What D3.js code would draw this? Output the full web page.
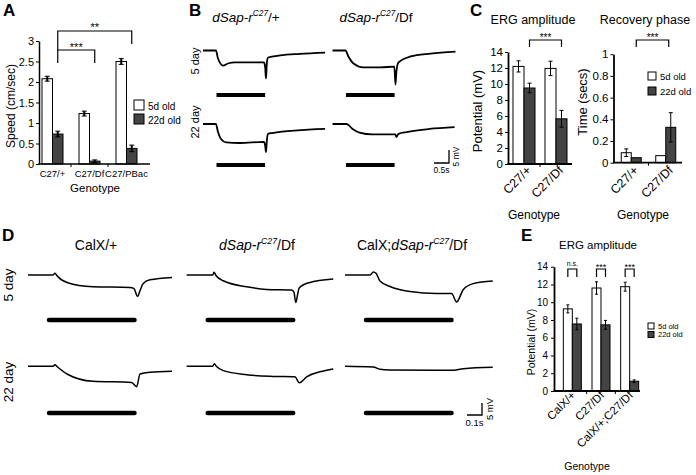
<!DOCTYPE html>
<html><head><meta charset="utf-8">
<script src="https://cdn.jsdelivr.net/npm/d3@7"></script>
<style>
body{margin:0;background:#fff}
svg{display:block}
text{font-family:"Liberation Sans",Arial,Helvetica,sans-serif;fill:#000}
</style>
</head><body>
<svg id="c" width="696" height="475"></svg>
<script>
// ---------------- DATA ----------------
const ageLegend = ["5d old", "22d old"];

// Panel A: climbing speed
const speedGenotypes = ["C27/+", "C27/Df", "C27/PBac"];
const speed5d = [2.08, 1.23, 2.50];
const speed5dErr = [0.06, 0.06, 0.07];
const speed22d = [0.73, 0.07, 0.38];
const speed22dErr = [0.07, 0.03, 0.08];
const speedTicks = [0, 0.5, 1, 1.5, 2, 2.5, 3];

// Panel C: ERG amplitude and recovery
const ergGenotypesC = ["C27/+", "C27/Df"];
const ergC5d = [12.2, 11.95];
const ergC5dErr = [0.7, 0.9];
const ergC22d = [9.5, 5.65];
const ergC22dErr = [0.6, 1.05];
const ergTicks = [0, 2, 4, 6, 8, 10, 12, 14];
const recGenotypes = ["C27/+", "C27/Df"];
const rec5d = [0.092, 0.065];
const rec5dErr = [0.035, 0];
const rec22d = [0.046, 0.326];
const rec22dErr = [0, 0.135];
const recTicks = [0, 0.2, 0.4, 0.6, 0.8, 1];

// Panel E: ERG amplitude with CalX
const ergGenotypesE = ["CalX/+", "C27/Df", "CalX/+;C27/Df"];
const ergE5d = [9.25, 11.6, 11.75];
const ergE5dErr = [0.45, 0.7, 0.5];
const ergE22d = [7.55, 7.45, 1.1];
const ergE22dErr = [0.65, 0.5, 0.15];
const ergSigE = ["n.s.", "***", "***"];

// Panel B: ERG traces [time s, mV]
const traceB_plus_5d = [[0,0],[0.43,0],[0.5,-3.1],[0.67,-5.8],[0.83,-5.0],[1.07,-4.6],[2.03,-4.6],[2.07,-6.2],[2.1,-10.8],[2.13,-4.6],[2.17,-2.7],[2.57,-1.9],[3.23,-1.3],[4.07,-0.8]];
const traceB_df_5d = [[0,0],[0.43,0],[0.53,-2.3],[0.7,-5.0],[1.03,-6.5],[1.6,-6.5],[2.06,-6.2],[2.1,-13.1],[2.13,-8.1],[2.2,-4.6],[2.6,-2.3],[3.27,-1.2],[4.1,-0.4]];
const traceB_plus_22d = [[0,0],[0.43,0],[0.5,-3.1],[0.6,-5.8],[0.77,-7.1],[1.23,-7.3],[2.03,-6.9],[2.07,-8.1],[2.1,-10.8],[2.13,-6.2],[2.17,-3.8],[2.3,-3.5],[4.07,-1.9]];
const traceB_df_22d = [[0,0],[0.47,0],[0.67,-1.9],[0.9,-3.3],[1.33,-4.0],[2.1,-4.0],[2.13,-5.0],[2.2,-3.8],[2.47,-3.1],[3.23,-1.9],[4.07,-1.2]];
const stimB = [0.45, 2.07];
const scaleB = [0.5, 5];   // 0.5 s, 5 mV

// Panel D: ERG traces [time s, mV]
const traceD_calx_5d = [[0,0],[0.167,0],[0.18,0.7],[0.193,-0.3],[0.26,-3.1],[0.433,-4.9],[0.68,-5.2],[0.707,-5.7],[0.73,-8.9],[0.747,-6.5],[0.767,-3.6],[0.813,-2.0],[0.96,-1.0]];
const traceD_calx_22d = [[0,0],[0.167,0],[0.18,0.6],[0.193,-0.1],[0.26,-3.2],[0.433,-6.25],[0.691,-6.7],[0.724,-8.5],[0.747,-3.2],[0.813,-2.5],[0.96,-2.1]];
const traceD_df_5d = [[0,0],[0.173,0],[0.182,1.1],[0.195,-0.2],[0.244,-2.4],[0.4,-4.9],[0.533,-6.0],[0.7,-6.25],[0.715,-7.1],[0.727,-11.5],[0.74,-7.9],[0.749,-5.5],[0.816,-3.2],[0.977,-1.7]];
const traceD_df_22d = [[0,0],[0.173,0],[0.184,1.1],[0.199,-0.1],[0.244,-1.8],[0.4,-3.5],[0.577,-4.2],[0.722,-4.4],[0.751,-6.9],[0.8,-4.4],[0.889,-2.3],[0.977,-1.1]];
const traceD_double_5d = [[0,0],[0.167,0],[0.189,1.25],[0.207,0.7],[0.233,-2.5],[0.3,-4.8],[0.433,-6.9],[0.611,-7.75],[0.711,-7.75],[0.744,-11.25],[0.789,-6.0],[0.855,-3.6],[0.985,-2.5]];
const traceD_double_22d = [[0,0],[0.189,-0.3],[0.233,-1.25],[0.3,-1.5],[0.611,-1.67],[0.711,-1.67],[0.789,-1.0],[0.985,-0.4]];
const stimD = [0.14, 0.71];
const scaleD = [0.1, 5];   // 0.1 s, 5 mV

const rowLabels = ["5 day", "22 day"];

// ---------------- DRAWING ----------------
const svg = d3.select("#c");
const DARK = "#444";

function txt(x, y, s, o = {}) {
  const t = svg.append("text").attr("x", x).attr("y", y).text(s)
    .attr("font-size", o.size || 11)
    .attr("text-anchor", o.anchor || "start")
    .attr("font-weight", o.weight || "normal");
  if (o.rotate != null) t.attr("transform", `rotate(${o.rotate},${x},${y})`);
  return t;
}

function richTitle(x, y, parts, size) {
  const t = svg.append("text").attr("x", x).attr("y", y)
    .attr("text-anchor", "middle").attr("font-size", size);
  let prevSup = false;
  parts.forEach(p => {
    const ts = t.append("tspan").text(p.t);
    if (p.i) ts.attr("font-style", "italic");
    if (p.sup) { ts.attr("font-size", size * 0.62).attr("dy", -size * 0.42); prevSup = true; }
    else if (prevSup) { ts.attr("dy", size * 0.42); prevSup = false; }
  });
}

function barChart(cfg) {
  const g = svg.append("g");
  const x = d3.scaleBand().domain(cfg.cats).range(cfg.xRange);
  const y = d3.scaleLinear().domain(cfg.yDomain).range(cfg.yRange);
  const bw = cfg.barW;
  const centers = cfg.cats.map(c => x(c) + x.bandwidth() / 2);
  cfg.cats.forEach((c, i) => {
    const cx = centers[i];
    [[cfg.v5, cfg.e5, "#fff", -1], [cfg.v22, cfg.e22, DARK, 0]].forEach(([v, e, fill, off]) => {
      const bx = cx + off * bw;
      g.append("rect").attr("x", bx).attr("y", y(v[i])).attr("width", bw)
        .attr("height", y(0) - y(v[i])).attr("fill", fill)
        .attr("stroke", "#000").attr("stroke-width", cfg.barStroke || 1);
      if (e[i] > 0) {
        const ex = bx + bw / 2;
        g.append("line").attr("x1", ex).attr("x2", ex)
          .attr("y1", y(v[i] - e[i])).attr("y2", y(v[i] + e[i]))
          .attr("stroke", "#000").attr("stroke-width", cfg.errW || 1);
        [v[i] - e[i], v[i] + e[i]].forEach(val => {
          g.append("line").attr("x1", ex - cfg.cap).attr("x2", ex + cfg.cap)
            .attr("y1", y(val)).attr("y2", y(val))
            .attr("stroke", "#000").attr("stroke-width", 1);
        });
      }
    });
  });
  // y axis
  const ya = g.append("g").attr("transform", `translate(${cfg.axisX},0)`)
    .call(d3.axisLeft(y).tickValues(cfg.ticks).tickSize(3).tickSizeOuter(0).tickPadding(cfg.tickPad || 2)
      .tickFormat(d => String(+d.toFixed(2))));
  ya.select(".domain").attr("stroke-width", cfg.axisW || 1.5);
  ya.selectAll(".tick line").attr("stroke-width", 1);
  ya.selectAll("text").attr("font-size", cfg.tickSize).attr("font-family", null);
  // x axis
  g.append("line").attr("x1", cfg.axisX - 0.5).attr("x2", cfg.axisEnd)
    .attr("y1", y(0)).attr("y2", y(0)).attr("stroke", "#000").attr("stroke-width", cfg.axisW || 1.5);
  cfg.cats.slice(1).forEach(c => {
    g.append("line").attr("x1", x(c)).attr("x2", x(c)).attr("y1", y(0)).attr("y2", y(0) + 3)
      .attr("stroke", "#000").attr("stroke-width", 1);
  });
  return { x, y, centers, g };
}

function bracket(x1, x2, yTop, yL, yR) {
  svg.append("path").attr("d", `M${x1},${yL}V${yTop}H${x2}V${yR}`)
    .attr("fill", "none").attr("stroke", "#000").attr("stroke-width", 1.2);
}

function legend(x, y, size, gap, fsize) {
  [["#fff", ageLegend[0]], [DARK, ageLegend[1]]].forEach(([f, l], i) => {
    svg.append("rect").attr("x", x).attr("y", y + i * gap).attr("width", size).attr("height", size)
      .attr("fill", f).attr("stroke", "#000").attr("stroke-width", 1);
    txt(x + size + 4, y + i * gap + size - 0.5, l, { size: fsize });
  });
}

function trace(data, x0, y0, pxS, pxMV, w) {
  const xs = d3.scaleLinear().domain([0, 1]).range([x0, x0 + pxS]);
  const ys = d3.scaleLinear().domain([0, 1]).range([y0, y0 - pxMV]);
  svg.append("path").datum(data)
    .attr("d", d3.line().x(d => xs(d[0])).y(d => ys(d[1])).curve(d3.curveMonotoneX))
    .attr("fill", "none").attr("stroke", "#000").attr("stroke-width", w);
  return { xs, ys };
}

function stim(xs, yb, range, w, cap) {
  svg.append("line").attr("x1", xs(range[0])).attr("x2", xs(range[1]))
    .attr("y1", yb).attr("y2", yb).attr("stroke", "#000").attr("stroke-width", w)
    .attr("stroke-linecap", cap);
}

function scaleBar(xs, ys, xEnd, yBase, sc, fs, labS, labMV) {
  const xw = xs(sc[0]) - xs(0), yh = ys(0) - ys(sc[1]);
  svg.append("path").attr("d", `M${xEnd - xw},${yBase}H${xEnd}V${yBase - yh}`)
    .attr("fill", "none").attr("stroke", "#000").attr("stroke-width", 1.3);
  txt(xEnd - xw / 2, yBase + fs + 1, labS, { size: fs, anchor: "middle" });
  txt(xEnd + fs + 1, yBase - yh / 2, labMV, { size: fs, anchor: "middle", rotate: -90 });
}

// ---- Panel letters
txt(3, 16, "A", { size: 17, weight: "bold" });
txt(189, 16, "B", { size: 17, weight: "bold" });
txt(470, 16, "C", { size: 17, weight: "bold" });
txt(2, 241, "D", { size: 17, weight: "bold" });
txt(521, 241, "E", { size: 17, weight: "bold" });

// ---- Panel A
const A = barChart({
  cats: speedGenotypes, v5: speed5d, e5: speed5dErr, v22: speed22d, e22: speed22dErr,
  xRange: [34, 145], axisX: 39, axisEnd: 150, yDomain: [0, 3], yRange: [164, 41],
  barW: 10.5, ticks: speedTicks, tickSize: 11, cap: 2.5, errW: 2, axisW: 1.5, tickPad: 2
});
A.centers.forEach((cx, i) => txt(cx, 177, speedGenotypes[i], { size: 9.5, anchor: "middle" }));
txt(95, 192, "Genotype", { size: 11.5, anchor: "middle" });
txt(15, 106, "Speed (cm/sec)", { size: 12, anchor: "middle", rotate: -90 });
{
  const d = A.centers.map(c => c + 10.5 / 2);
  bracket(d[0], d[1], 50, 63, 63);
  bracket(d[0], d[2], 31, 50, 44);
  txt((d[0] + d[1]) / 2, 51, "***", { size: 11, anchor: "middle" });
  txt((d[0] + d[2]) / 2, 30.5, "**", { size: 11, anchor: "middle" });
}
legend(134, 100, 10, 14, 10);

// ---- Panel B
const titleB1 = [{ t: "dSap-r", i: 1 }, { t: "C27", sup: 1, i: 1 }, { t: "/+" }];
const titleB2 = [{ t: "dSap-r", i: 1 }, { t: "C27", sup: 1, i: 1 }, { t: "/Df" }];
richTitle(246, 22, titleB1, 13.5);
richTitle(376, 22, titleB2, 13.5);
txt(199, 61, rowLabels[0], { size: 11, anchor: "middle", rotate: -90 });
txt(199, 122, rowLabels[1], { size: 11, anchor: "middle", rotate: -90 });
const bCols = [203, 332.5], bRows = [50.5, 124], bStimY = [95, 165];
const bTraces = [[traceB_plus_5d, traceB_df_5d], [traceB_plus_22d, traceB_df_22d]];
let lastB;
bTraces.forEach((row, r) => row.forEach((tr, c) => {
  lastB = trace(tr, bCols[c], bRows[r], 30, 2.6, 1.8);
  stim(lastB.xs, bStimY[r], stimB, 4, "butt");
}));
scaleBar(lastB.xs, lastB.ys, 449, 163, scaleB, 8.5, "0.5s", "5 mV");

// ---- Panel C
const C1 = barChart({
  cats: ergGenotypesC, v5: ergC5d, e5: ergC5dErr, v22: ergC22d, e22: ergC22dErr,
  xRange: [508, 572], axisX: 508, axisEnd: 572, yDomain: [0, 14], yRange: [164, 52],
  barW: 11, ticks: ergTicks, tickSize: 11.5, cap: 2, errW: 1, axisW: 1.8, tickPad: 2
});
const C2 = barChart({
  cats: recGenotypes, v5: rec5d, e5: rec5dErr, v22: rec22d, e22: rec22dErr,
  xRange: [614, 683], axisX: 613.5, axisEnd: 682, yDomain: [0, 1], yRange: [162.7, 54.2],
  barW: 10, ticks: recTicks, tickSize: 11.5, cap: 2, errW: 1, axisW: 1.8, tickPad: 2
});
txt(533, 24, "ERG amplitude", { size: 12.5, anchor: "middle" });
txt(645, 24, "Recovery phase", { size: 12.5, anchor: "middle" });
txt(482, 111, "Potential (mV)", { size: 13, anchor: "middle", rotate: -90 });
txt(587, 102, "Time (secs)", { size: 13, anchor: "middle", rotate: -90 });
[C1, C2].forEach((ch, k) => {
  const cats = k === 0 ? ergGenotypesC : recGenotypes;
  ch.centers.forEach((cx, i) => txt(cx + 8, 171, cats[i], { size: 12.5, anchor: "end", rotate: -45 }));
});
txt(534, 219, "Genotype", { size: 12, anchor: "middle" });
txt(643, 219, "Genotype", { size: 12, anchor: "middle" });
{
  const d1 = C1.centers.map(c => c + 5.5);
  bracket(d1[0], d1[1], 40, 47, 47);
  txt((d1[0] + d1[1]) / 2, 41, "***", { size: 10, anchor: "middle" });
  const d2 = C2.centers.map(c => c + 5);
  bracket(d2[0], d2[1] - 2, 40, 47, 47);
  txt((d2[0] + d2[1] - 2) / 2, 41, "***", { size: 10, anchor: "middle" });
}
legend(648, 72, 8, 15, 9.5);

// ---- Panel D
const titleD1 = [{ t: "CalX/+" }];
const titleD2 = [{ t: "dSap-r", i: 1 }, { t: "C27", sup: 1, i: 1 }, { t: "/Df" }];
const titleD3 = [{ t: "CalX;" }, { t: "dSap-r", i: 1 }, { t: "C27", sup: 1, i: 1 }, { t: "/Df" }];
richTitle(96, 250, titleD1, 14);
richTitle(257, 250, titleD2, 14);
richTitle(412, 250, titleD3, 14);
txt(13, 285, rowLabels[0], { size: 13.5, anchor: "middle", rotate: -90 });
txt(13, 382, rowLabels[1], { size: 13.5, anchor: "middle", rotate: -90 });
const dCols = [28, 186.7, 345], dRows = [275, 366.3], dStimY = [320, 413];
const dTraces = [[traceD_calx_5d, traceD_df_5d, traceD_double_5d], [traceD_calx_22d, traceD_df_22d, traceD_double_22d]];
let lastD;
dTraces.forEach((row, r) => row.forEach((tr, c) => {
  lastD = trace(tr, dCols[c], dRows[r], 150, 2.4, 1.5);
  stim(lastD.xs, dStimY[r], stimD, 4.5, "round");
}));
scaleBar(lastD.xs, lastD.ys, 482, 415, scaleD, 9.5, "0.1s", "5 mV");

// ---- Panel E
const E = barChart({
  cats: ergGenotypesE, v5: ergE5d, e5: ergE5dErr, v22: ergE22d, e22: ergE22dErr,
  xRange: [558, 644], axisX: 554, axisEnd: 640, yDomain: [0, 14], yRange: [391, 266.7],
  barW: 9, ticks: ergTicks, tickSize: 10, cap: 1.5, errW: 1, axisW: 1.8, tickPad: 3
});
txt(598, 249, "ERG amplitude", { size: 11.5, anchor: "middle" });
txt(535, 342, "Potential (mV)", { size: 10.5, anchor: "middle", rotate: -90 });
E.centers.forEach((cx, i) => txt(cx + 4, 396, ergGenotypesE[i], { size: 11.5, anchor: "end", rotate: -45 }));
txt(587, 470, "Genotype", { size: 10.5, anchor: "middle" });
E.centers.forEach((cx, i) => {
  bracket(cx - 4.5, cx + 4.5, 269, 277, 277);
  txt(cx, ergSigE[i] === "n.s." ? 266 : 269.5, ergSigE[i], { size: ergSigE[i] === "n.s." ? 7 : 9, anchor: "middle" });
});
legend(648, 323, 6, 8.5, 7.5);
</script>
</body></html>
